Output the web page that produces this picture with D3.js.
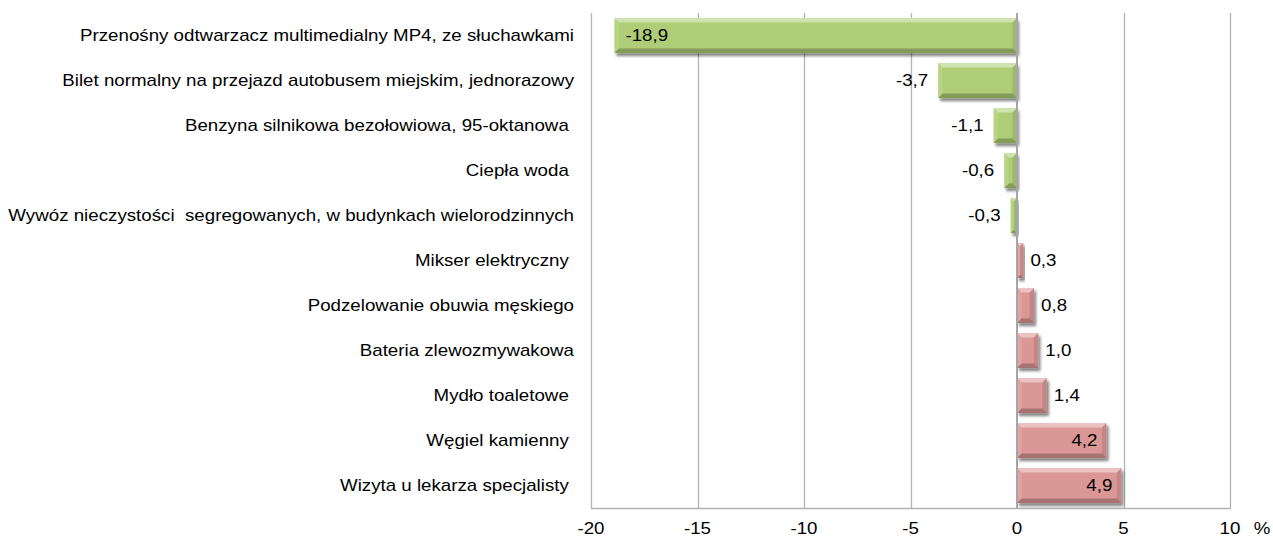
<!DOCTYPE html>
<html>
<head>
<meta charset="utf-8">
<script src="https://cdn.jsdelivr.net/npm/d3@7"></script>
<style>
  body { margin: 0; background: #fff; }
  svg text { font-family: "Liberation Sans", Arial, sans-serif; white-space: pre; }
</style>
</head>
<body>
<div id="chart"></div>
<script>
// ---------- Data ---------- //
var categories = [
  "Przenośny odtwarzacz multimedialny MP4, ze słuchawkami",
  "Bilet normalny na przejazd autobusem miejskim, jednorazowy",
  "Benzyna silnikowa bezołowiowa, 95-oktanowa ",
  "Ciepła woda ",
  "Wywóz nieczystości  segregowanych, w budynkach wielorodzinnych",
  "Mikser elektryczny ",
  "Podzelowanie obuwia męskiego",
  "Bateria zlewozmywakowa",
  "Mydło toaletowe ",
  "Węgiel kamienny ",
  "Wizyta u lekarza specjalisty "
];
var values = [-18.9, -3.7, -1.1, -0.6, -0.3, 0.3, 0.8, 1.0, 1.4, 4.2, 4.9];
var labelInside = [true, false, false, false, false, false, false, false, false, true, true];
var xTicks = [-20, -15, -10, -5, 0, 5, 10];
var unitLabel = "%";

var width = 1273;
var height = 538;
var margin = { top: 13, right: 43, bottom: 30, left: 591 };
var stretch = 1.17; // text in the picture is a bit wider than it is tall

var x = d3.scaleLinear()
  .domain([-20, 10])
  .range([margin.left, width - margin.right]);

var y = d3.scaleBand()
  .domain(categories)
  .range([margin.top, height - margin.bottom])
  .paddingInner(0.22)
  .paddingOuter(0.11);

var fmt = function(v) { return d3.format(".1f")(v).replace(".", ",").replace("\u2212", "-"); };

var place = function(px, py) {
  return "translate(" + px + "," + py + ") scale(" + stretch + ",1)";
};

var svg = d3.select("#chart")
  .append("svg")
  .attr("width", width)
  .attr("height", height);

var defs = svg.append("defs");
var shadow = defs.append("filter")
  .attr("id", "shadow")
  .attr("x", "-10%").attr("y", "-20%")
  .attr("width", "130%").attr("height", "160%");
shadow.append("feGaussianBlur").attr("in", "SourceAlpha").attr("stdDeviation", 1.6);
shadow.append("feOffset").attr("dx", 2).attr("dy", 3).attr("result", "blur");
shadow.append("feComponentTransfer").append("feFuncA").attr("type", "linear").attr("slope", 0.5);
var merge = shadow.append("feMerge");
merge.append("feMergeNode");
merge.append("feMergeNode").attr("in", "SourceGraphic");

// gridlines
svg.append("g")
  .attr("stroke", "#b3b3b3")
  .attr("stroke-width", 1.3)
  .selectAll("line")
  .data(xTicks.filter(d => d !== 0))
  .join("line")
  .attr("x1", d => Math.round(x(d)) + 0.5)
  .attr("x2", d => Math.round(x(d)) + 0.5)
  .attr("y1", margin.top)
  .attr("y2", height - margin.bottom);

// bottom border
svg.append("line")
  .attr("x1", x(-20)).attr("x2", x(10) + 1)
  .attr("y1", height - margin.bottom + 0.5).attr("y2", height - margin.bottom + 0.5)
  .attr("stroke", "#b3b3b3").attr("stroke-width", 1.5);

// x axis tick labels
svg.append("g")
  .attr("font-size", 16)
  .attr("fill", "#000")
  .attr("text-anchor", "middle")
  .selectAll("text")
  .data(xTicks)
  .join("text")
  .attr("transform", d => place(x(d), height - 4.5))
  .text(d => d);

svg.append("text")
  .attr("transform", place(x(10) + 32, height - 4.5))
  .attr("font-size", 16)
  .attr("text-anchor", "middle")
  .text(unitLabel);

// category labels
svg.append("g")
  .attr("font-size", 16)
  .attr("fill", "#000")
  .attr("text-anchor", "end")
  .selectAll("text")
  .data(categories)
  .join("text")
  .attr("transform", d => place(margin.left - 17, y(d) + y.bandwidth() / 2))
  .attr("dy", "0.36em")
  .text(d => d);

// bars with bevel
var rows = categories.map((c, i) => ({ name: c, value: values[i], inside: labelInside[i] }));

var bars = svg.append("g")
  .selectAll("g")
  .data(rows)
  .join("g")
  .attr("filter", "url(#shadow)");

bars.each(function(d) {
  var g = d3.select(this);
  var x0 = Math.min(x(0), x(d.value));
  var x1 = Math.max(x(0), x(d.value));
  var y0 = y(d.name);
  var y1 = y0 + y.bandwidth();
  var w = x1 - x0;
  var b = Math.min(4.5, w / 2);
  var face = d.value < 0 ? "#aecd76" : "#db9796";
  g.append("rect")
    .attr("x", x0).attr("y", y0)
    .attr("width", w).attr("height", y1 - y0)
    .attr("fill", face);
  var poly = function(pts, fill, op) {
    g.append("polygon")
      .attr("points", pts.map(p => p.join(",")).join(" "))
      .attr("fill", fill)
      .attr("fill-opacity", op);
  };
  // top
  poly([[x0, y0], [x1, y0], [x1 - b, y0 + b], [x0 + b, y0 + b]], "#fff", 0.42);
  // bottom
  poly([[x0, y1], [x1, y1], [x1 - b, y1 - b], [x0 + b, y1 - b]], "#000", 0.24);
  // left
  poly([[x0, y0], [x0 + b, y0 + b], [x0 + b, y1 - b], [x0, y1]], "#fff", 0.12);
  // right
  poly([[x1, y0], [x1 - b, y0 + b], [x1 - b, y1 - b], [x1, y1]], "#000", 0.1);
});

// zero axis
svg.append("line")
  .attr("x1", x(0)).attr("x2", x(0))
  .attr("y1", margin.top).attr("y2", height - margin.bottom)
  .attr("stroke", "#a6a6a6").attr("stroke-width", 2);

// value labels
svg.append("g")
  .attr("font-size", 16)
  .attr("fill", "#000")
  .selectAll("text")
  .data(rows)
  .join("text")
  .attr("transform", function(d) {
    var px;
    if (d.value < 0) px = d.inside ? x(d.value) + 11 : x(d.value) - 10;
    else px = d.inside ? x(d.value) - 9 : x(d.value) + 7;
    return place(px, y(d.name) + y.bandwidth() / 2);
  })
  .attr("dy", "0.36em")
  .attr("text-anchor", function(d) {
    if (d.value < 0) return d.inside ? "start" : "end";
    return d.inside ? "end" : "start";
  })
  .text(d => fmt(d.value));
</script>
</body>
</html>
